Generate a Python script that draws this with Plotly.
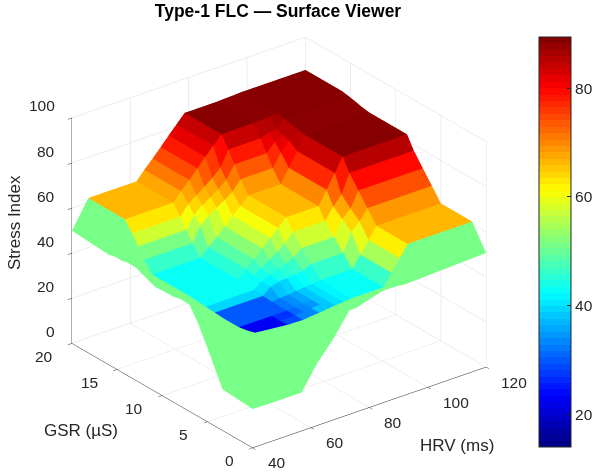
import plotly.graph_objects as go

hrv = [40, 45.6, 56.8, 62.1, 64.8, 67.6, 70.4, 73.1, 75.8, 78.6, 84.8, 89.6, 92.4, 95.2, 97.9, 120]
gsr = [0, 1.54, 2.4, 3.32, 5, 6, 7, 8, 8.74, 10.8, 12.92, 13.8, 14.48, 15.14, 15.92, 20]

# surface height, rows = gsr, cols = hrv
z_rows = [
 [17.2,17,17,27.5,31.6,35.8,41,46,46.2,47.4,49.7,49.5,49.1,49.3,49.4,50.6],
 [17.7,45,43.5,43.3,43.7,44,44.4,44.8,45.1,45.5,45.5,45.5,50.6,55.9,61,61],
 [18,44,43.3,43.3,43.7,44,44.4,44.8,45.1,45.5,45.5,45.5,50.6,55.9,61,61],
 [18.2,43.3,43.3,43.3,43.7,44,44.4,44.8,45.1,45.5,45.5,45.5,50.6,55.9,61,61],
 [32.7,43.3,43.3,43.3,43.7,44,44.4,44.8,45.1,45.5,45.5,45.5,50.6,55.9,61,61],
 [41,43.6,43.6,43.6,46.5,47.5,47.8,48.1,48.7,50.4,50.4,50.4,58.4,61.9,66.5,66.5],
 [47.3,43.9,43.9,43.9,46.7,48.4,49.5,50.7,52.3,55.2,55.2,55.2,61.9,65.3,72,72],
 [47.5,44.2,44.2,44.2,46.9,48.9,51.2,53.5,56,60,60,60,65,69.1,77.5,77.5],
 [46.8,44.5,44.5,44.5,48,51.2,54.7,58.1,61.3,64.8,64.8,64.8,70.8,77,83,83],
 [46.4,44.5,44.5,44.5,48,51.2,54.7,58.1,61.3,64.8,64.8,64.8,70.8,77,83,83],
 [50,44.5,44.5,44.5,48,51.2,54.7,58.1,61.3,64.8,64.8,64.8,70.8,77,83,83],
 [50.2,48.9,48.9,48.9,55.5,58.6,60.9,63.2,65.6,69.9,69.9,69.9,75.6,79.8,83.6,83.6],
 [49.4,53.3,53.3,53.3,58.7,61.8,64.1,66.3,69.4,74.9,74.9,74.9,78.6,80.5,84.3,84.3],
 [49.6,57.6,57.6,57.6,62,64.6,67.2,69.9,73.2,80,80,80,81.4,81.5,84.9,84.9],
 [48.8,62,62,62,65.9,69.6,73.5,77.4,81.1,85,85,85,85.2,85.3,85.5,85.5],
 [50,62,62,62,65.9,69.6,73.5,77.4,81.1,85,85,85,85.2,85.3,85.5,85.5],
]

# face colour values, one per grid cell (15 x 15)
RIM = 51.5
c_rows = [
 [RIM]*15,
 [RIM,23,29,33,33,38,38,40,42,43,43,46.8,54.4,62,65.8],
 [RIM,23,27,31,33,35,38,40,42,43,43,46.8,54.4,62,65.8],
 [RIM,30,30,32,34,36,38,40,42,43,43,46.8,54.4,62,65.8],
 [RIM,30,30,35.7,38,39.6,41.3,42.9,44.5,45.9,45.9,52.7,58.8,64.8,68.5],
 [RIM,39,39,40,41.8,43.8,45.1,46.7,49.4,51.6,51.6,57.7,63.8,69,73.8],
 [RIM,43,43,43,43.8,45.8,48,50.5,54.3,57.3,57.3,62,67,72.9,79],
 [RIM,43,43,43.4,46.4,49.4,52.5,55.5,59.1,63,63,66.4,72,77.7,85],
 [RIM,43,43,45,48.7,52.5,56.3,60,63.9,65.8,65.8,69.3,76.4,83.5,89.4],
 [RIM,43,43,45,48.7,52.5,56.3,60,63.9,65.8,65.8,69.3,76.4,83.5,89.4],
 [RIM,45.9,45.9,50.2,54.1,57.2,60.2,63.2,66.3,68.3,68.3,73,78.7,84.4,88],
 [RIM,51.6,51.6,55.1,59.7,62.5,64.7,67,70.6,73.3,73.3,77,81.2,85,88],
 [RIM,57.3,57.3,59.9,63.4,65.7,67.7,70.4,75,78.3,78.3,80.9,82.9,85.4,88],
 [RIM,63,63,64.9,67.6,70.2,73,75.6,79.2,83.5,83.5,84.5,85.4,86.3,89.4],
 [RIM,65.8,65.8,67.5,70.9,74.2,77.6,81,84.3,89.4,89.4,88,88,88,89.4],
]

CMIN, CMAX = 14, 89.4
tick_vals = [20, 40, 60, 80]
x_ticks = [40, 60, 80, 100, 120]
y_ticks = [0, 5, 10, 15, 20]
z_ticks = [0, 20, 40, 60, 80, 100]
FONT = "Liberation Sans"
INK = "#262626"
TICK_SIZE = 15.5

def jet(p):
    r = min(max(min(4*p-1.5, -4*p+4.5), 0), 1)
    g = min(max(min(4*p-0.5, -4*p+3.5), 0), 1)
    b = min(max(min(4*p+0.5, -4*p+2.5), 0), 1)
    return f"rgb({round(r*255)},{round(g*255)},{round(b*255)})"

N = 64
scale = []
for k in range(N):
    col = jet((k+0.5)/N)
    scale += [[k/N, col], [(k+1)/N, col]]

nx, ny = len(hrv), len(gsr)
X, Y, Z, I, J, K, C = [], [], [], [], [], [], []
for j in range(ny):
    for i in range(nx):
        X.append(hrv[i]); Y.append(gsr[j]); Z.append(z_rows[j][i])
for j in range(ny-1):
    for i in range(nx-1):
        a = j*nx+i; b = a+1; d = a+nx; e = d+1
        I += [a, a]; J += [b, e]; K += [e, d]
        C += [c_rows[j][i], c_rows[j][i]]

fig = go.Figure(go.Mesh3d(
    x=X, y=Y, z=Z, i=I, j=J, k=K,
    intensity=C, intensitymode="cell",
    colorscale=scale, cmin=CMIN, cmax=CMAX, flatshading=True,
    lighting=dict(ambient=1, diffuse=0, specular=0, fresnel=0, roughness=1),
    colorbar=dict(
        x=529/600, xanchor="left", xref="container",
        y=1-447/472, yanchor="bottom", yref="container", ypad=0,
        len=410, lenmode="pixels", thickness=32, thicknessmode="pixels",
        tickvals=tick_vals, ticks="inside", ticklen=4, tickcolor=INK,
        outlinecolor=INK, outlinewidth=1,
        tickfont=dict(family=FONT, size=TICK_SIZE, color=INK),
    ),
))

def ax(rng, dt):
    return dict(
        title=dict(text=""), range=rng, dtick=dt, tick0=0,
        showbackground=False, showspikes=False,
        gridcolor="#dcdcdc", gridwidth=1, zeroline=False,
        showline=True, linecolor=INK, linewidth=1,
        ticks="outside", ticklen=5, tickcolor=INK, showticklabels=False,
        autorange=False,
    )

def label(x, y, z, text, xs, ys, anchor):
    return dict(x=x, y=y, z=z, text=text, showarrow=False, xshift=xs, yshift=ys, xanchor=anchor,
                yanchor="middle", font=dict(family=FONT, size=TICK_SIZE, color=INK))

notes = []
for v in z_ticks:
    notes.append(label(40, 20, v, str(v), -15, 12, "right"))
for v in y_ticks:
    notes.append(label(40, v, 0, str(v), -17, -13, "right"))
for v in x_ticks:
    notes.append(label(v, 0, 0, str(v), 13, -15, "left"))

def side(text, px, py, angle=0):
    return dict(text=text, x=px/600, y=1-py/472, xref="paper", yref="paper", showarrow=False,
                textangle=angle, xanchor="center", yanchor="middle",
                font=dict(family=FONT, size=17, color=INK))

fig.update_layout(
    width=600, height=472, margin=dict(l=0, r=0, t=0, b=0, autoexpand=False), autosize=False,
    paper_bgcolor="white", showlegend=False,
    title=dict(text="<b>Type-1 FLC — Surface Viewer</b>", x=278/600, xanchor="center",
               y=1-11/472, yanchor="middle",
               font=dict(family=FONT, size=17.5, color="#000000")),
    annotations=[side("Stress Index", 15, 223, -90), side("GSR (µS)", 81, 430), side("HRV (ms)", 457, 445)],
    scene=dict(
        domain=dict(x=[0, 0.93], y=[0, 1-13/472]),
        xaxis=ax([40, 120], 20),
        yaxis=ax([0, 20], 5),
        zaxis=ax([0, 100], 20),
        annotations=notes,
        aspectmode="manual", aspectratio=dict(x=1.287, y=1.287, z=1.098),
        camera=dict(projection=dict(type="orthographic"),
                    eye=dict(x=-0.82, y=-1.06, z=0.67),
                    center=dict(x=0, y=0, z=0), up=dict(x=0, y=0, z=1)),
    ),
)
fig.write_html("out.html", post_script="document.body.style.margin='0';", config={"displayModeBar": False})
